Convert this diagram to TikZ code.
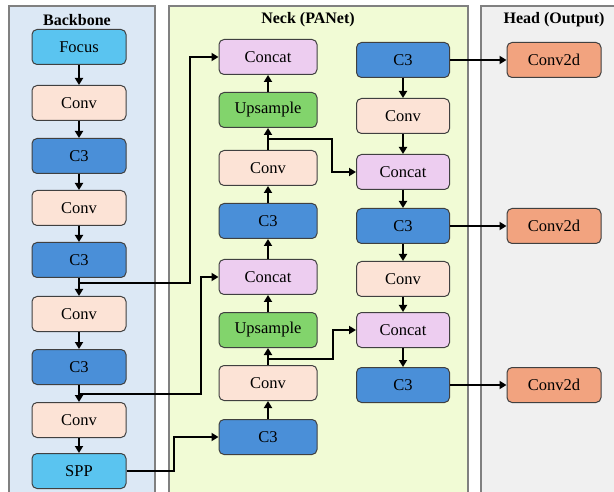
\documentclass[tikz,border=0pt]{standalone}
\usepackage{fontspec}
\setmainfont{Liberation Serif}
\usetikzlibrary{arrows.meta,positioning}

\definecolor{bbpanel}{HTML}{DCE8F5}
\definecolor{nkpanel}{HTML}{F1FBD5}
\definecolor{hdpanel}{HTML}{F0F0F0}
\definecolor{focuscol}{HTML}{5AC4F0}
\definecolor{convcol}{HTML}{FCE3D6}
\definecolor{cthreecol}{HTML}{4A8FD8}
\definecolor{catcol}{HTML}{EDCDF0}
\definecolor{upcol}{HTML}{82D46C}
\definecolor{outcol}{HTML}{F2A37F}

\tikzset{
  blk/.style={draw=black!75, line width=1pt, rounded corners=5pt, minimum width=94pt,
    minimum height=35pt, inner sep=0pt, font=\rmfamily\fontsize{16.5}{18}\selectfont},
  focus/.style={blk, fill=focuscol},
  conv/.style={blk, fill=convcol},
  cthree/.style={blk, fill=cthreecol},
  concat/.style={blk, fill=catcol},
  upsmp/.style={blk, fill=upcol},
  outconv/.style={blk, fill=outcol},
  title/.style={font=\rmfamily\fontsize{16}{18}\selectfont\bfseries},
  arr/.style={line width=2.5pt, -{Triangle[length=7pt,width=8pt]}},
}

\begin{document}
\begin{tikzpicture}[x=1pt,y=-1pt]

\useasboundingbox (0,0) rectangle (614,492);

\fill[bbpanel] (9,6) rectangle (155,492);
\draw[gray, line width=1.5pt] (9,492) -- (9,6) -- (155,6) -- (155,492);
\fill[nkpanel] (169,6) rectangle (468,492);
\draw[gray, line width=1.5pt] (169,492) -- (169,6) -- (468,6) -- (468,492);
\fill[hdpanel] (481,6) rectangle (614,492);
\draw[gray, line width=1.5pt] (481,492) -- (481,6) -- (614,6);

\node[title] (tbb) at (77,20){Backbone};
\node[title] (tnk) at (308,20){Neck (PANet)};
\node[title] (thd) at (554,20){Head (Output)};

% backbone
\node[focus] (b1) at (79,47){Focus};
\node[conv] (b2) at (79,103){Conv};
\node[cthree] (b3) at (79,156){C3};
\node[conv] (b4) at (79,208){Conv};
\node[cthree] (b5) at (79,260){C3};
\node[conv] (b6) at (79,314){Conv};
\node[cthree] (b7) at (79,367){C3};
\node[conv] (b8) at (79,420){Conv};
\node[focus] (b9) at (79,471){SPP};

\foreach \a/\b in {b1/b2,b2/b3,b3/b4,b4/b5,b5/b6,b6/b7,b7/b8,b8/b9}
  \draw[arr] (\a) -- (\b);

% neck, upward path
\node[concat, minimum width=98pt] (n1) at (268,57){Concat};
\node[upsmp, minimum width=98pt] (n2) at (268,110){Upsample};
\node[conv, minimum width=98pt] (n3) at (268,168){Conv};
\node[cthree, minimum width=98pt] (n4) at (268,221){C3};
\node[concat, minimum width=98pt] (n5) at (268,277){Concat};
\node[upsmp, minimum width=98pt] (n6) at (268,330){Upsample};
\node[conv, minimum width=98pt] (n7) at (268,383){Conv};
\node[cthree, minimum width=98pt] (n8) at (268,437){C3};

\foreach \a/\b in {n8/n7,n7/n6,n6/n5,n5/n4,n4/n3,n3/n2,n2/n1}
  \draw[arr] (\a) -- (\b);

% neck, downward path
\node[cthree, minimum width=93pt] (r1) at (403,60){C3};
\node[conv, minimum width=93pt] (r2) at (403,116){Conv};
\node[concat, minimum width=93pt] (r3) at (403,172){Concat};
\node[cthree, minimum width=93pt] (r4) at (403,226){C3};
\node[conv, minimum width=93pt] (r5) at (403,279){Conv};
\node[concat, minimum width=93pt] (r6) at (403,330){Concat};
\node[cthree, minimum width=93pt] (r7) at (403,385){C3};

\foreach \a/\b in {r1/r2,r2/r3,r3/r4,r4/r5,r5/r6,r6/r7}
  \draw[arr] (\a) -- (\b);

% head
\node[outconv] (h1) at (554,60){Conv2d};
\node[outconv] (h2) at (554,226){Conv2d};
\node[outconv] (h3) at (554,385){Conv2d};

\draw[arr, line width=2pt] (r1) -- (h1);
\draw[arr, line width=2pt] (r4) -- (h2);
\draw[arr, line width=2pt] (r7) -- (h3);

% lateral links
\coordinate (s1) at (79,283);
\coordinate (k1) at (190,57);
\draw[arr] (s1) -| (k1) -- (n1.west);

\coordinate (s2) at (79,394);
\coordinate (k2) at (201,277);
\draw[arr] (s2) -| (k2) -- (n5.west);

\coordinate (k3) at (174,437);
\draw[arr] (b9.east) -| (k3) -- (n8.west);

\coordinate (s3) at (268,139);
\coordinate (k4) at (332,172);
\draw[arr] (s3) -| (k4) -- (r3.west);

\coordinate (s4) at (268,359);
\coordinate (k5) at (333,330);
\draw[arr] (s4) -| (k5) -- (r6.west);

\end{tikzpicture}
\end{document}
